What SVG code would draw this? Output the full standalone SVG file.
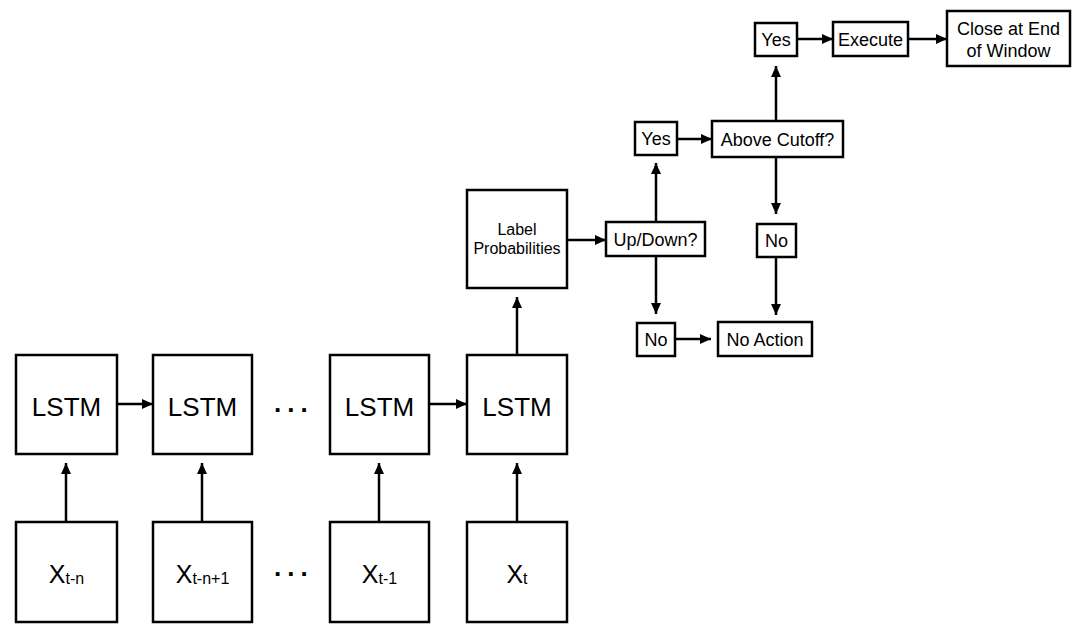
<svg xmlns="http://www.w3.org/2000/svg" width="1080" height="633" viewBox="0 0 1080 633">
<style>
.box{fill:#fff;stroke:#000;stroke-width:2.5}
.t{font-family:"Liberation Sans",Arial,sans-serif;fill:#000;text-anchor:middle}
.big{font-size:26px}
.mid{font-size:18px}
.sm{font-size:16px}
.x{font-size:25px}
.sub{font-size:16px}
.dots{font-family:"Liberation Sans",Arial,sans-serif;font-size:26px;font-weight:bold;letter-spacing:6px}
.c line{stroke:#000;stroke-width:2.5;marker-end:url(#ah)}
</style>
<defs>
<marker id="ah" markerUnits="userSpaceOnUse" markerWidth="12" markerHeight="11" refX="11" refY="5.5" orient="auto">
<path d="M0,0.5 L11,5.5 L0,10.5 z" fill="#000"/>
</marker>
</defs>
<rect width="1080" height="633" fill="#fff"/>
<g class="c" id="connectors">
<line x1="117" y1="404" x2="153" y2="404"/>
<line x1="429" y1="404" x2="467" y2="404"/>
<line x1="66" y1="522" x2="66" y2="463"/>
<line x1="202" y1="522" x2="202" y2="463"/>
<line x1="379" y1="522" x2="379" y2="463"/>
<line x1="517" y1="522" x2="517" y2="463"/>
<line x1="517" y1="355" x2="517" y2="297"/>
<line x1="567" y1="240" x2="606" y2="240"/>
<line x1="656" y1="222" x2="656" y2="163"/>
<line x1="656" y1="256" x2="656" y2="314"/>
<line x1="677" y1="139" x2="712" y2="139"/>
<line x1="776" y1="121" x2="776" y2="66"/>
<line x1="776" y1="157" x2="776" y2="214"/>
<line x1="776" y1="257" x2="776" y2="315"/>
<line x1="675" y1="339" x2="711" y2="339"/>
<line x1="797" y1="39" x2="833" y2="39"/>
<line x1="908" y1="39" x2="947" y2="39"/>
</g>
<g id="lstm1"><rect class="box" x="16" y="355" width="101" height="99"/><text class="t big" x="66.5" y="416">LSTM</text></g>
<g id="lstm2"><rect class="box" x="153" y="355" width="99" height="99"/><text class="t big" x="202.5" y="416">LSTM</text></g>
<g id="lstm3"><rect class="box" x="330" y="355" width="99" height="99"/><text class="t big" x="379.5" y="416">LSTM</text></g>
<g id="lstm4"><rect class="box" x="467" y="355" width="100" height="99"/><text class="t big" x="517" y="416">LSTM</text></g>
<g id="dots1"><text class="dots" x="274" y="412">...</text></g>
<g id="x1"><rect class="box" x="16" y="522" width="101" height="100"/><text class="t" x="66.5" y="583"><tspan class="x">X</tspan><tspan class="sub" dy="1">t-n</tspan></text></g>
<g id="x2"><rect class="box" x="153" y="522" width="99" height="100"/><text class="t" x="202.5" y="583"><tspan class="x">X</tspan><tspan class="sub" dy="1">t-n+1</tspan></text></g>
<g id="x3"><rect class="box" x="330" y="522" width="99" height="100"/><text class="t" x="379.5" y="583"><tspan class="x">X</tspan><tspan class="sub" dy="1">t-1</tspan></text></g>
<g id="x4"><rect class="box" x="467" y="522" width="100" height="100"/><text class="t" x="517" y="583"><tspan class="x">X</tspan><tspan class="sub" dy="1">t</tspan></text></g>
<g id="dots2"><text class="dots" x="274" y="576">...</text></g>
<g id="labelprob"><rect class="box" x="467" y="190" width="100" height="98"/><text class="t sm" x="517" y="235">Label</text><text class="t sm" x="517" y="254">Probabilities</text></g>
<g id="updown"><rect class="box" x="606" y="222" width="99" height="34"/><text class="t mid" x="655.5" y="246">Up/Down?</text></g>
<g id="yes1"><rect class="box" x="635" y="122" width="42" height="33"/><text class="t mid" x="656" y="145">Yes</text></g>
<g id="no1"><rect class="box" x="637" y="323" width="38" height="33"/><text class="t mid" x="656" y="346">No</text></g>
<g id="cutoff"><rect class="box" x="712" y="121" width="131" height="36"/><text class="t mid" x="777.5" y="146">Above Cutoff?</text></g>
<g id="no2"><rect class="box" x="757" y="224" width="39" height="33"/><text class="t mid" x="776.5" y="247">No</text></g>
<g id="noaction"><rect class="box" x="718" y="322" width="94" height="34"/><text class="t mid" x="765" y="346">No Action</text></g>
<g id="yes2"><rect class="box" x="755" y="23" width="42" height="33"/><text class="t mid" x="776" y="46">Yes</text></g>
<g id="execute"><rect class="box" x="833" y="22" width="75" height="34"/><text class="t mid" x="870.5" y="46">Execute</text></g>
<g id="close"><rect class="box" x="947" y="11" width="123" height="55"/><text class="t mid" x="1008.5" y="35">Close at End</text><text class="t mid" x="1008.5" y="57">of Window</text></g>
</svg>
